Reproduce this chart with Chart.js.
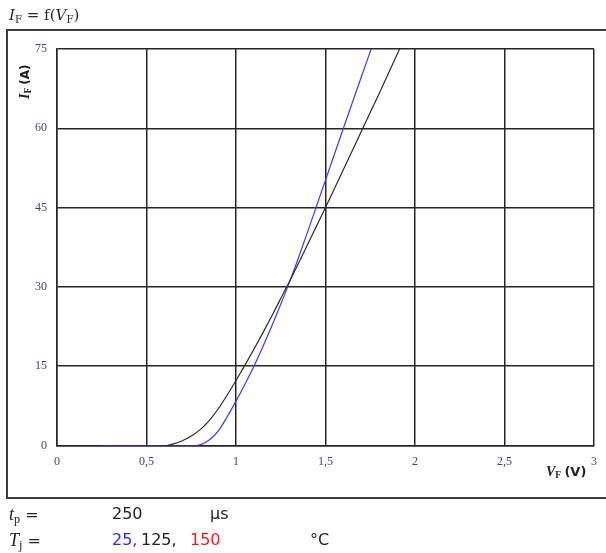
<!DOCTYPE html>
<html>
<head>
<meta charset="utf-8">
<script src="https://cdn.jsdelivr.net/npm/chart.js@4.4.1/dist/chart.umd.min.js"></script>
<style>
  html, body { margin: 0; padding: 0; background: #fff; }
  body { width: 606px; height: 553px; position: relative; overflow: hidden; }
  #frame { position: absolute; left: 6px; top: 29px; width: 620px; height: 466px; border: 2px solid #3c3c3c; }
  #plot { position: absolute; left: 0; top: 0; }
  .txt { position: absolute; white-space: nowrap; color: #222; }
  .serif { font-family: "Liberation Serif", "DejaVu Serif", serif; }
  .sans { font-family: "DejaVu Sans", Verdana, sans-serif; }
  sub { font-size: 0.68em; vertical-align: -0.25em; line-height: 0; font-style: normal; }
  #title { left: 9px; top: 5px; font-family: "DejaVu Serif", serif; font-size: 15px; line-height: 20px; color: #2a2a2a; }
  #ytitle { left: 18px; top: 99px; transform: rotate(-90deg); transform-origin: left top; font-size: 12px; line-height: 14px; font-weight: bold; }
  #xtitle { left: 546px; top: 464px; font-size: 13px; line-height: 16px; font-weight: bold; }
  .row { font-size: 16px; line-height: 20px; }
</style>
</head>
<body>
<div id="frame"></div>
<canvas id="plot" width="606" height="553"></canvas>

<div id="title" class="txt"><i>I</i><sub>F</sub> = f(<i>V</i><sub>F</sub>)</div>
<div id="ytitle" class="txt"><span class="serif" style="font-size:14px"><i>I</i><sub>F</sub></span> <span class="sans">(A)</span></div>
<div id="xtitle" class="txt"><span class="serif" style="font-size:14px"><i>V</i><sub>F</sub></span> <span class="sans">(V)</span></div>

<div class="txt row" style="left:9px; top:504px;"><span class="serif" style="font-size:18px"><i>t</i><sub>p</sub></span><span class="sans">&nbsp;=</span></div>
<div class="txt row sans" style="left:112px; top:504px;">250</div>
<div class="txt row sans" style="left:210px; top:504px;">µs</div>

<div class="txt row" style="left:9px; top:530px;"><span class="serif" style="font-size:18px"><i>T</i><sub>j</sub></span><span class="sans">&nbsp;=</span></div>
<div class="txt row sans" style="left:112px; top:530px; color:#2a2aff;">25,</div>
<div class="txt row sans" style="left:141px; top:530px;">125,</div>
<div class="txt row sans" style="left:190px; top:530px; color:#ff1a1a;">150</div>
<div class="txt row sans" style="left:310px; top:530px;">°C</div>

<script>
// forward characteristic, tp = 250 µs
const voltage25 = [0.25, 0.78, 0.81, 0.84, 0.87, 0.9, 0.95, 1.0, 1.05, 1.1, 1.15, 1.2, 1.25, 1.3, 1.35, 1.4, 1.45, 1.5, 1.6, 1.7, 1.755];
const current25 = [0, 0, 0.25, 0.8, 1.6, 2.7, 5.4, 8.4, 11.6, 15.0, 18.7, 22.6, 26.7, 31.0, 35.6, 40.4, 45.3, 50.2, 60.0, 69.7, 75];

const voltage125 = [0.55, 0.61, 0.65, 0.7, 0.75, 0.8, 0.85, 0.9, 0.95, 1.0, 1.05, 1.1, 1.15, 1.2, 1.25, 1.3, 1.4, 1.5, 1.6, 1.7, 1.8, 1.914];
const current125 = [0, 0, 0.3, 0.9, 1.8, 3.0, 4.7, 6.9, 9.5, 12.3, 15.2, 18.2, 21.3, 24.5, 27.8, 31.1, 38.0, 45.0, 52.2, 59.4, 66.6, 75];

const xTickValues = [0, 0.5, 1, 1.5, 2, 2.5, 3];
const xTickLabels = ['0', '0,5', '1', '1,5', '2', '2,5', '3'];
const yTickValues = [0, 15, 30, 45, 60, 75];

const toPoints = (xs, ys) => xs.map((x, i) => ({ x: x, y: ys[i] }));

const gridColor = '#262626';
const tickFont = { family: '"Liberation Serif", "DejaVu Serif", serif', size: 12 };
const tickColor = '#3f4a62';

new Chart(document.getElementById('plot').getContext('2d'), {
  type: 'line',
  data: {
    datasets: [
      {
        label: '125 °C',
        data: toPoints(voltage125, current125),
        borderColor: '#2b2b2b',
        borderWidth: 1.2,
        pointRadius: 0,
        cubicInterpolationMode: 'monotone',
      },
      {
        label: '25 °C',
        data: toPoints(voltage25, current25),
        borderColor: '#3a3aff',
        borderWidth: 1.2,
        pointRadius: 0,
        cubicInterpolationMode: 'monotone',
      },
    ],
  },
  options: {
    responsive: false,
    animation: false,
    events: [],
    layout: { padding: { top: 49, right: 12, bottom: 77.5, left: 0 } },
    plugins: { legend: { display: false }, tooltip: { enabled: false } },
    scales: {
      x: {
        type: 'linear',
        min: 0,
        max: 3,
        afterBuildTicks: (scale) => { scale.ticks = xTickValues.map((v) => ({ value: v })); },
        afterFit: (scale) => { scale.height = 30; },
        ticks: {
          callback: (value, index) => xTickLabels[index],
          font: tickFont,
          color: tickColor,
          padding: 9,
          maxRotation: 0,
          autoSkip: false,
        },
        grid: { color: gridColor, lineWidth: 1.5, drawTicks: false },
        border: { color: gridColor, width: 1.5 },
      },
      y: {
        min: 0,
        max: 75,
        afterBuildTicks: (scale) => { scale.ticks = yTickValues.map((v) => ({ value: v })); },
        afterFit: (scale) => { scale.width = 57; },
        ticks: {
          font: tickFont,
          color: tickColor,
          padding: 10,
          autoSkip: false,
        },
        grid: { color: gridColor, lineWidth: 1.5, drawTicks: false },
        border: { color: gridColor, width: 1.5 },
      },
    },
  },
});
</script>
</body>
</html>
